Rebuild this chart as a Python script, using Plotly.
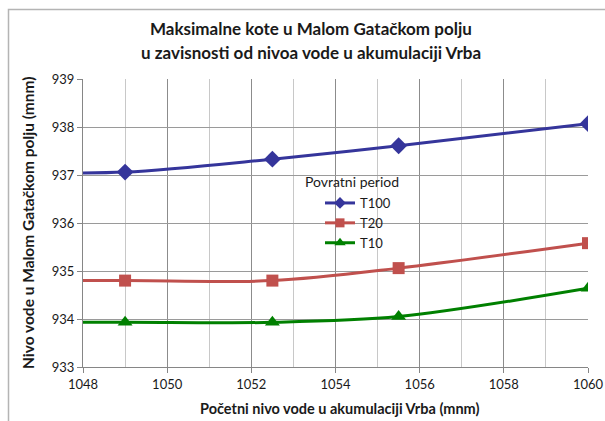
import plotly.graph_objects as go

# Data
x_levels = [1046, 1049, 1052.5, 1055.5, 1060]   # first point lies left of the visible axis (line enters from edge)
t100 = [937.05, 937.06, 937.33, 937.61, 938.07]
t20 = [934.80, 934.80, 934.80, 935.06, 935.58]
t10 = [933.93, 933.93, 933.93, 934.05, 934.64]

series_names = ["T100", "T20", "T10"]
series_values = [t100, t20, t10]
series_colors = ["#35359b", "#c0504d", "#008000"]
series_symbols = ["diamond", "square", "triangle-up"]

title_lines = ["Maksimalne kote u Malom Gatačkom polju",
               "u zavisnosti od nivoa vode u akumulaciji Vrba"]
x_title = "Početni nivo vode u akumulaciji Vrba (mnm)"
y_title = "Nivo vode u Malom Gatačkom polju (mnm)"
legend_title = "Povratni period"

FONT = "Lato"
W, H = 605, 421
# plot area in reference pixels: x 83..588, y 79..367
L, R, T, B = 83, 605 - 588, 79, 421 - 367
pw, ph = W - L - R, H - T - B

def px_x(p):
    return (p - L) / pw

def px_y(p):
    return (H - B - p) / ph

fig = go.Figure()
for name, vals, col, sym in zip(series_names, series_values, series_colors, series_symbols):
    sz = {"diamond": 13, "square": 12, "triangle-up": 13}[sym]
    fig.add_trace(go.Scatter(
        x=x_levels, y=vals, name=name, mode="lines+markers", showlegend=False,
        line=dict(color=col, width=3, shape="spline", smoothing=0.9),
        marker=dict(symbol=sym, size=sz, color=col),
    ))
# legend-only entries (smaller legend symbols, as in the reference)
for name, col, sym in zip(series_names, series_colors, series_symbols):
    lsz = {"diamond": 9, "square": 9, "triangle-up": 10}[sym]
    fig.add_trace(go.Scatter(
        x=[None], y=[None], name=name, mode="lines+markers", showlegend=True,
        line=dict(color=col, width=3),
        marker=dict(symbol=sym, size=lsz, color=col),
    ))

fig.update_layout(
    width=W, height=H,
    margin=dict(l=L, r=R, t=T, b=B, pad=0, autoexpand=False),
    paper_bgcolor="white", plot_bgcolor="white",
    font=dict(family=FONT, size=13, color="#1a1a1a"),
    showlegend=True,
    legend=dict(
        x=px_x(320), y=px_y(188), xanchor="left", yanchor="top",
        bgcolor="rgba(0,0,0,0)", borderwidth=0,
        font=dict(family=FONT, size=13, color="#1a1a1a"),
        tracegroupgap=0,
    ),
    xaxis=dict(
        range=[1048, 1060], dtick=2, tick0=1048, automargin=False,
        showgrid=True, gridcolor="#8c8c8c", gridwidth=1,
        minor=dict(dtick=1, showgrid=True, gridcolor="#c8c8c8", gridwidth=1,
                   ticks=""),
        showline=True, linecolor="#868686", linewidth=1,
        ticks="outside", ticklen=5, tickcolor="#868686",
        zeroline=False, tickfont=dict(family=FONT, size=13),
    ),
    yaxis=dict(
        range=[933, 939], dtick=1, automargin=False,
        showgrid=True, gridcolor="#9a9a9a", gridwidth=1,
        showline=True, linecolor="#868686", linewidth=1,
        ticks="outside", ticklen=5, tickcolor="#868686",
        zeroline=False, tickfont=dict(family=FONT, size=13),
    ),
)

# outer chart-area border (only left and top visible in the reference)
fig.add_shape(type="rect", xref="paper", yref="paper",
              x0=px_x(8.5), x1=px_x(700), y0=px_y(500), y1=px_y(9.5),
              line=dict(color="#b4b4b4", width=1.5), fillcolor="rgba(0,0,0,0)",
              layer="below")

# legend box (white, hides grid lines)
fig.add_shape(type="rect", xref="paper", yref="paper",
              x0=px_x(301), x1=px_x(413), y0=px_y(263), y1=px_y(172),
              line=dict(width=0), fillcolor="white", layer="between")

ann = []
for txt, yy in zip(title_lines, [28, 52]):
    ann.append(dict(text="<b>" + txt + "</b>", x=px_x(311), y=px_y(yy),
                    xref="paper", yref="paper", showarrow=False,
                    xanchor="center", yanchor="middle",
                    font=dict(family=FONT, size=17, color="#1a1a1a")))
ann.append(dict(text="<b>" + x_title + "</b>", x=px_x(340), y=px_y(408),
                xref="paper", yref="paper", showarrow=False,
                xanchor="center", yanchor="middle",
                font=dict(family=FONT, size=14.5, color="#1a1a1a")))
ann.append(dict(text="<b>" + y_title + "</b>", x=px_x(28), y=px_y(223),
                xref="paper", yref="paper", showarrow=False, textangle=-90,
                xanchor="center", yanchor="middle",
                font=dict(family=FONT, size=15.5, color="#1a1a1a")))
ann.append(dict(text=legend_title, x=px_x(303), y=px_y(181),
                xref="paper", yref="paper", showarrow=False,
                xanchor="left", yanchor="middle",
                font=dict(family=FONT, size=14, color="#1a1a1a")))
fig.update_layout(annotations=ann)

fig.write_html(
    "out.html",
    config={"displayModeBar": False},
    post_script="document.body.style.margin='0';document.body.style.overflow='hidden';",
)
